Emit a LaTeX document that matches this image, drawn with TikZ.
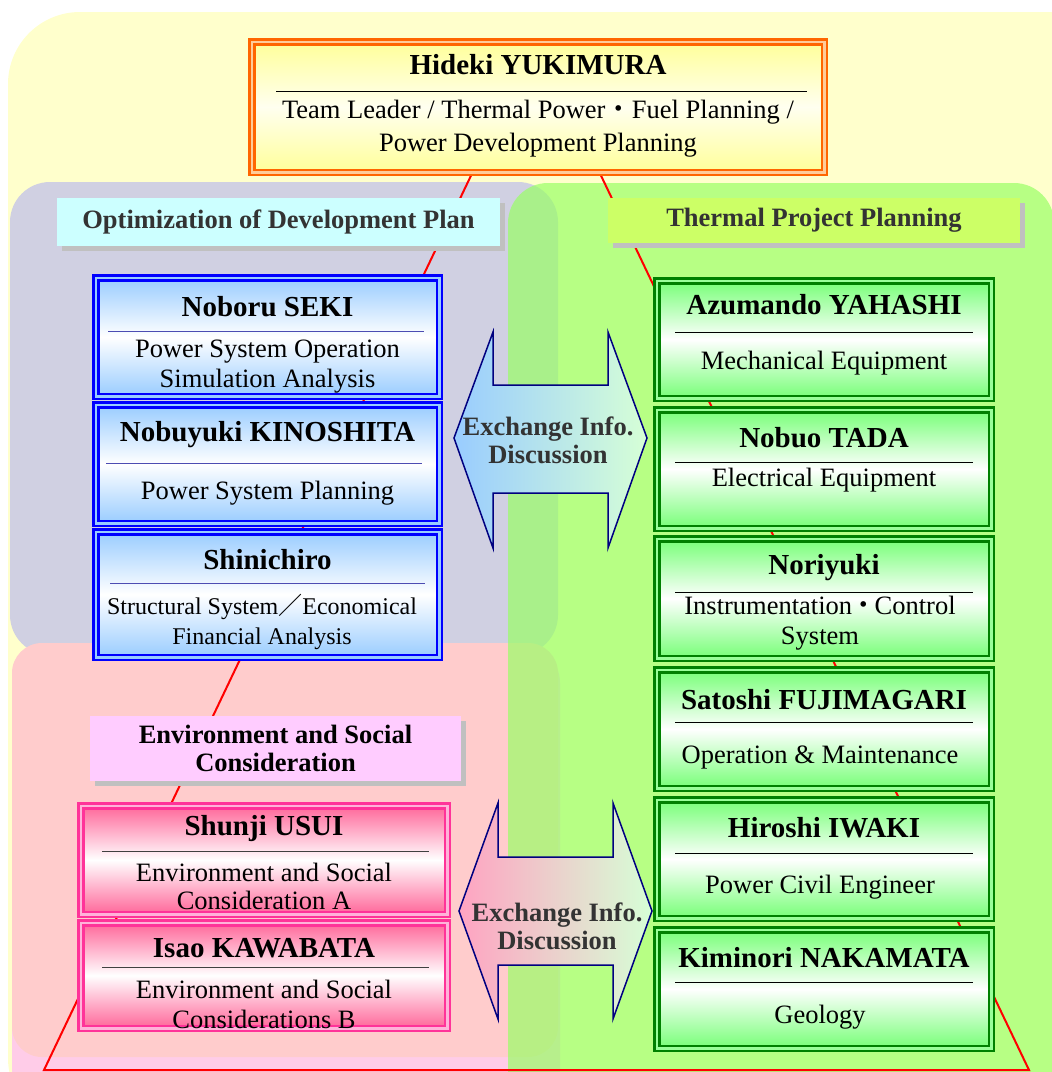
\documentclass[tikz,border=0pt]{standalone}
\usepackage{fontspec}
\setmainfont{Liberation Serif}
\newfontfamily\cjk{Noto Sans CJK JP}
\usetikzlibrary{shadows,backgrounds}

\definecolor{bgyellow}{HTML}{FFFFCC}
\definecolor{optpanel}{HTML}{D0D0E2}
\definecolor{thermpanel}{HTML}{99FF66}
\definecolor{envpanel}{HTML}{FFCCCC}
\definecolor{envpanellow}{HTML}{FFCCE8}
\definecolor{optlabel}{HTML}{CCFFFF}
\definecolor{thermlabel}{HTML}{CCFF66}
\definecolor{envlabel}{HTML}{FFCCFF}
\definecolor{leadline}{HTML}{FF6600}
\definecolor{leadgap}{HTML}{FFCC99}
\definecolor{leadfill}{HTML}{FFFF99}
\definecolor{optline}{HTML}{0000FF}
\definecolor{optgap}{HTML}{99CCFF}
\definecolor{optfill}{HTML}{99CCFF}
\definecolor{thermline}{HTML}{008000}
\definecolor{thermgap}{HTML}{99FF99}
\definecolor{thermfill}{HTML}{77FF77}
\definecolor{envline}{HTML}{FF3399}
\definecolor{envgap}{HTML}{FFB3D9}
\definecolor{envfill}{HTML}{FF6699}
\definecolor{linkred}{HTML}{FF0000}
\definecolor{arrowline}{HTML}{000080}
\definecolor{labeltext}{HTML}{333333}
\definecolor{shadowgray}{HTML}{C0C0C0}

\tikzset{
  member/.style={rectangle, inner sep=0pt, line width=2.5pt, double distance=2.5pt},
  leadbox/.style={member, draw=leadline, double=leadgap, top color=leadfill, bottom color=leadfill, middle color=leadfill!15},
  optbox/.style={member, draw=optline, double=optgap, top color=optfill, bottom color=optfill, middle color=white},
  thermbox/.style={member, draw=thermline, double=thermgap, top color=thermfill, bottom color=thermfill, middle color=white},
  envbox/.style={member, draw=envline, double=envgap, top color=envfill, bottom color=envfill, middle color=white},
  persontext/.style={font=\fontsize{29}{33}\selectfont\bfseries},
  roletext/.style={font=\fontsize{26.5}{30}\selectfont, align=center},
  rolerule/.style={line width=1pt, draw=#1},
  rolerule/.default=black,
  grouplabel/.style={font=\fontsize{26.5}{28}\selectfont\bfseries, text=labeltext, align=center,
    drop shadow={shadow xshift=5pt, shadow yshift=-5pt, fill=shadowgray, opacity=1}},
  exchange/.style={draw=arrowline, line width=1.5pt},
  exchangetext/.style={font=\fontsize{26.5}{28}\selectfont\bfseries, text=labeltext, align=center},
  orgline/.style={draw=linkred, line width=2pt},
}

\begin{document}
\begin{tikzpicture}[x=1pt,y=-1pt]
  \useasboundingbox (0,0) rectangle (1052,1072);

  % team leader
  \node[leadbox, minimum width=572.5pt, minimum height=130.5pt] (yukimura) at (538,107) {};
  \node[persontext] (yukimuraN) at (538,65) {Hideki YUKIMURA};
  \draw[rolerule] (276,91) -- (807,91);
  \node[roletext] (yukimuraR) at (538,129) {Team Leader / Thermal Power{\cjk ・}Fuel Planning /\\[3pt]Power Development Planning};

  % group labels
  \node[grouplabel, fill=optlabel, minimum width=443pt, minimum height=48pt] (optL) at (278.5,222) {Optimization of Development Plan};
  \node[grouplabel, fill=thermlabel, minimum width=412pt, minimum height=45pt] (thermL) at (814,220.5) {Thermal Project Planning};
  \node[grouplabel, fill=envlabel, text=black, minimum width=371pt, minimum height=65pt] (envL) at (275.5,748.5) {Environment and Social\\Consideration};

  % development plan
  \node[optbox, minimum width=343.5pt, minimum height=118.5pt] (seki) at (267.5,337) {};
  \node[persontext] (sekiN) at (267.5,307) {Noboru SEKI};
  \draw[rolerule=optline!40!gray] (108,331) -- (424,331);
  \node[roletext] (sekiR) at (267.5,367) {Power System Operation\\Simulation Analysis};

  \node[optbox, minimum width=343.5pt, minimum height=118.5pt] (kinoshita) at (267.5,464) {};
  \node[persontext] (kinoshitaN) at (267.5,435) {Nobuyuki KINOSHITA};
  \draw[rolerule=optline!40!gray] (106,463) -- (422,463);
  \node[roletext] (kinoshitaR) at (267.5,493) {Power System Planning};

  \node[optbox, minimum width=343.5pt, minimum height=125.5pt] (shinichiro) at (267.5,594.5) {};
  \node[persontext] (shinichiroN) at (267.5,560) {Shinichiro};
  \draw[rolerule=optline!40!gray] (110,583) -- (425,583);
  \node[roletext, font=\fontsize{24}{30}\selectfont] (shinichiroR) at (262,622) {Structural System{\cjk ／}Economical\\Financial Analysis};

  % environment
  \node[envbox, minimum width=366.5pt, minimum height=108.5pt] (usui) at (264,860) {};
  \node[persontext] (usuiN) at (264,829) {Shunji USUI};
  \draw[rolerule=darkgray] (102,851) -- (429,851);
  \node[roletext] (usuiR) at (264,886) {Environment and Social\\[-2pt]Consideration A};

  \node[envbox, minimum width=366.5pt, minimum height=105.5pt] (kawabata) at (264,975.5) {};
  \node[persontext] (kawabataN) at (264,948) {Isao KAWABATA};
  \draw[rolerule=darkgray] (102,967) -- (429,967);
  \node[roletext] (kawabataR) at (264,1004) {Environment and Social\\Considerations B};

  % thermal project
  \node[thermbox, minimum width=334.5pt, minimum height=117.5pt] (yahashi) at (824,339.5) {};
  \node[persontext] (yahashiN) at (824,305) {Azumando YAHASHI};
  \draw[rolerule] (675,332) -- (973,332);
  \node[roletext] (yahashiR) at (824,363) {Mechanical Equipment};

  \node[thermbox, minimum width=334.5pt, minimum height=118.5pt] (tada) at (824,469) {};
  \node[persontext] (tadaN) at (824,438) {Nobuo TADA};
  \draw[rolerule] (675,462) -- (973,462);
  \node[roletext] (tadaR) at (824,480) {Electrical Equipment};

  \node[thermbox, minimum width=334.5pt, minimum height=119.5pt] (noriyuki) at (824,598.5) {};
  \node[persontext] (noriyukiN) at (824,568) {Noriyuki};
  \draw[rolerule] (675,592) -- (973,592);
  \node[roletext] (noriyukiR) at (820,623) {Instrumentation\kern-2pt{\cjk ・}\kern-2ptControl\\System};

  \node[thermbox, minimum width=334.5pt, minimum height=118.5pt] (fujimagari) at (824,729) {};
  \node[persontext] (fujimagariN) at (824,700) {Satoshi FUJIMAGARI};
  \draw[rolerule] (675,722) -- (973,722);
  \node[roletext] (fujimagariR) at (820,757) {Operation \& Maintenance};

  \node[thermbox, minimum width=334.5pt, minimum height=118.5pt] (iwaki) at (824,859) {};
  \node[persontext] (iwakiN) at (824,828) {Hiroshi IWAKI};
  \draw[rolerule] (675,853) -- (973,853);
  \node[roletext] (iwakiR) at (820,887) {Power Civil Engineer};

  \node[thermbox, minimum width=334.5pt, minimum height=118.5pt] (nakamata) at (824,989) {};
  \node[persontext] (nakamataN) at (824,958) {Kiminori NAKAMATA};
  \draw[rolerule] (675,982) -- (973,982);
  \node[roletext] (nakamataR) at (820,1017) {Geology};

  % exchange arrows
  \path[exchange, left color=optfill, right color=thermgap!40] (454,438) -- (493,332) -- (493,385) -- (608,385) -- (608,332)
    -- (647,438) -- (608,548) -- (608,493) -- (493,493) -- (493,548) -- cycle;
  \node[exchangetext] (infoTop) at (548,440) {Exchange Info.\\Discussion};
  \path[exchange, left color=envfill!60, right color=thermgap!40] (459,911) -- (498,803) -- (498,857) -- (613,857) -- (613,803)
    -- (652,911) -- (613,1019) -- (613,965) -- (498,965) -- (498,1019) -- cycle;
  \node[exchangetext] (infoBot) at (557,926) {Exchange Info.\\Discussion};

  \begin{scope}[on background layer]
    \fill[bgyellow, rounded corners=72pt] (8,12) rectangle (1130,1130);
    \fill[optpanel, rounded corners=40pt] (10,182) rectangle (558,655);
    \fill[envpanellow, rounded corners=40pt] (12,643) rectangle (560,1110);
    \fill[envpanel, rounded corners=30pt] (12,643) rectangle (558,1057);
    \fill[thermpanel, fill opacity=.7, rounded corners=40pt] (508,183) rectangle (1054,1110);
    % reporting line
    \coordinate (cornerL) at (44,1070);
    \coordinate (cornerR) at (1029,1070);
    \draw[orgline] ([xshift=-66pt]yukimura.south) -- (cornerL) -- (cornerR) -- ([xshift=62pt]yukimura.south);
  \end{scope}
\end{tikzpicture}
\end{document}
